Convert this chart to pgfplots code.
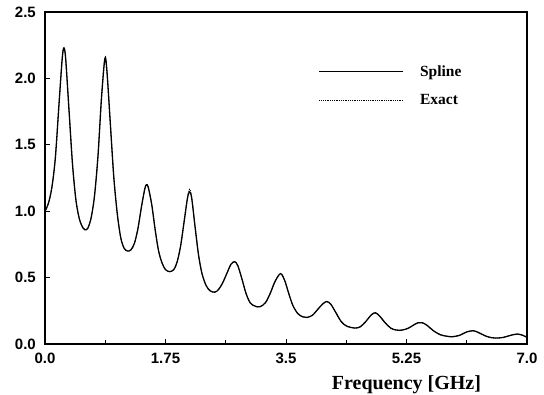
\documentclass[border=0pt]{standalone}
\usepackage{fontspec}
\setmainfont{Liberation Serif}
\setsansfont{Liberation Sans}
\usepackage{pgfplots}
\pgfplotsset{compat=1.18}
\usepackage{pgfplotstable}
\pgfplotstableread{
x y
0.00 1.00
0.05 1.06
0.10 1.18
0.15 1.40
0.20 1.78
0.25 2.15
0.275 2.23
0.30 2.15
0.35 1.75
0.40 1.35
0.45 1.08
0.50 0.94
0.55 0.875
0.58 0.86
0.62 0.87
0.67 0.95
0.72 1.12
0.77 1.42
0.82 1.85
0.87 2.15
0.90 2.05
0.95 1.65
1.00 1.25
1.05 0.98
1.10 0.80
1.15 0.72
1.20 0.70
1.25 0.71
1.30 0.76
1.35 0.87
1.40 1.03
1.45 1.17
1.475 1.20
1.50 1.18
1.55 1.05
1.60 0.86
1.65 0.70
1.70 0.61
1.75 0.56
1.81 0.545
1.87 0.56
1.92 0.62
1.97 0.74
2.02 0.92
2.07 1.10
2.10 1.145
2.13 1.10
2.18 0.88
2.23 0.67
2.28 0.53
2.34 0.44
2.40 0.40
2.465 0.39
2.52 0.41
2.58 0.46
2.64 0.53
2.70 0.60
2.755 0.62
2.80 0.59
2.86 0.49
2.92 0.38
2.98 0.31
3.05 0.285
3.12 0.28
3.20 0.31
3.27 0.38
3.34 0.47
3.42 0.53
3.48 0.48
3.54 0.38
3.60 0.29
3.67 0.23
3.74 0.205
3.80 0.20
3.88 0.215
3.96 0.26
4.03 0.30
4.09 0.32
4.15 0.30
4.22 0.24
4.30 0.17
4.38 0.135
4.50 0.12
4.58 0.13
4.66 0.17
4.74 0.22
4.80 0.235
4.86 0.21
4.94 0.16
5.02 0.12
5.10 0.105
5.19 0.105
5.28 0.12
5.36 0.145
5.42 0.16
5.48 0.16
5.55 0.14
5.64 0.10
5.74 0.07
5.84 0.058
5.92 0.055
6.02 0.065
6.12 0.09
6.22 0.10
6.30 0.085
6.40 0.06
6.48 0.048
6.57 0.045
6.66 0.05
6.76 0.065
6.86 0.075
6.94 0.065
7.00 0.05
}\spline
\pgfplotstableread{
x y
0.00 1.00
0.05 1.06
0.10 1.18
0.15 1.40
0.20 1.78
0.25 2.15
0.275 2.23
0.30 2.15
0.35 1.75
0.40 1.35
0.45 1.08
0.50 0.94
0.55 0.875
0.58 0.86
0.62 0.87
0.67 0.95
0.72 1.12
0.77 1.42
0.82 1.85
0.87 2.16
0.90 2.05
0.95 1.65
1.00 1.25
1.05 0.98
1.10 0.80
1.15 0.72
1.20 0.70
1.25 0.71
1.30 0.76
1.35 0.87
1.40 1.03
1.45 1.17
1.475 1.20
1.50 1.18
1.55 1.05
1.60 0.86
1.65 0.70
1.70 0.61
1.75 0.56
1.81 0.545
1.87 0.56
1.92 0.62
1.97 0.74
2.02 0.92
2.07 1.11
2.10 1.165
2.13 1.11
2.18 0.88
2.23 0.67
2.28 0.53
2.34 0.44
2.40 0.40
2.465 0.39
2.52 0.41
2.58 0.46
2.64 0.53
2.70 0.60
2.755 0.62
2.80 0.59
2.86 0.49
2.92 0.38
2.98 0.31
3.05 0.285
3.12 0.28
3.20 0.31
3.27 0.38
3.34 0.47
3.42 0.53
3.48 0.48
3.54 0.38
3.60 0.29
3.67 0.23
3.74 0.205
3.80 0.20
3.88 0.215
3.96 0.26
4.03 0.30
4.09 0.32
4.15 0.30
4.22 0.24
4.30 0.17
4.38 0.135
4.50 0.12
4.58 0.13
4.66 0.17
4.74 0.22
4.80 0.235
4.86 0.21
4.94 0.16
5.02 0.12
5.10 0.105
5.19 0.105
5.28 0.12
5.36 0.145
5.42 0.16
5.48 0.16
5.55 0.14
5.64 0.10
5.74 0.07
5.84 0.058
5.92 0.055
6.02 0.065
6.12 0.09
6.22 0.10
6.30 0.085
6.40 0.06
6.48 0.048
6.57 0.045
6.66 0.05
6.76 0.065
6.86 0.075
6.94 0.065
7.00 0.05
}\exact
\begin{document}
\begin{tikzpicture}
\useasboundingbox (-45pt,-51pt) rectangle (499pt,344pt);
\begin{axis}[
  scale only axis, width=482pt, height=332pt,
  xmin=0, xmax=7, ymin=0, ymax=2.5,
  xtick={0,1.75,3.5,5.25,7}, xticklabels={0.0,1.75,3.5,5.25,7.0},
  minor xtick={0.875,2.625,4.375,6.125},
  ytick={0,0.5,1,1.5,2,2.5}, yticklabels={0.0,0.5,1.0,1.5,2.0,2.5},
  tick pos=left, tick align=inside,
  major tick length=5pt, minor tick length=4pt,
  every tick/.style={black, line width=1pt},
  axis line style={line width=1.2pt},
  tick label style={font=\fontsize{15}{18}\selectfont\sffamily\bfseries, inner sep=0pt},
  xticklabel style={anchor=base, yshift=-19.5pt},
  yticklabel style={anchor=east, xshift=-9pt},
  xlabel={Frequency [GHz]},
  xlabel style={at={(axis description cs:0.75,0)}, anchor=base, yshift=-46pt, inner sep=0pt, font=\fontsize{20}{22}\selectfont\rmfamily\bfseries},
  legend style={draw=none, fill=none, at={(axis cs:3.93,2.13)}, anchor=north west, font=\fontsize{15.5}{18}\selectfont\rmfamily\bfseries, row sep=13pt, column sep=14pt},
  legend cell align=left,
  legend image code/.code={\draw[#1] (0pt,0pt) -- (84pt,0pt);},
]
\addplot[black, line width=1.3pt, smooth] table {\spline};
\addlegendentry{Spline}
\addplot[black, line width=0.8pt, dash pattern=on 0.8pt off 1pt, smooth] table {\exact};
\addlegendentry{Exact}
\end{axis}
\end{tikzpicture}
\end{document}
